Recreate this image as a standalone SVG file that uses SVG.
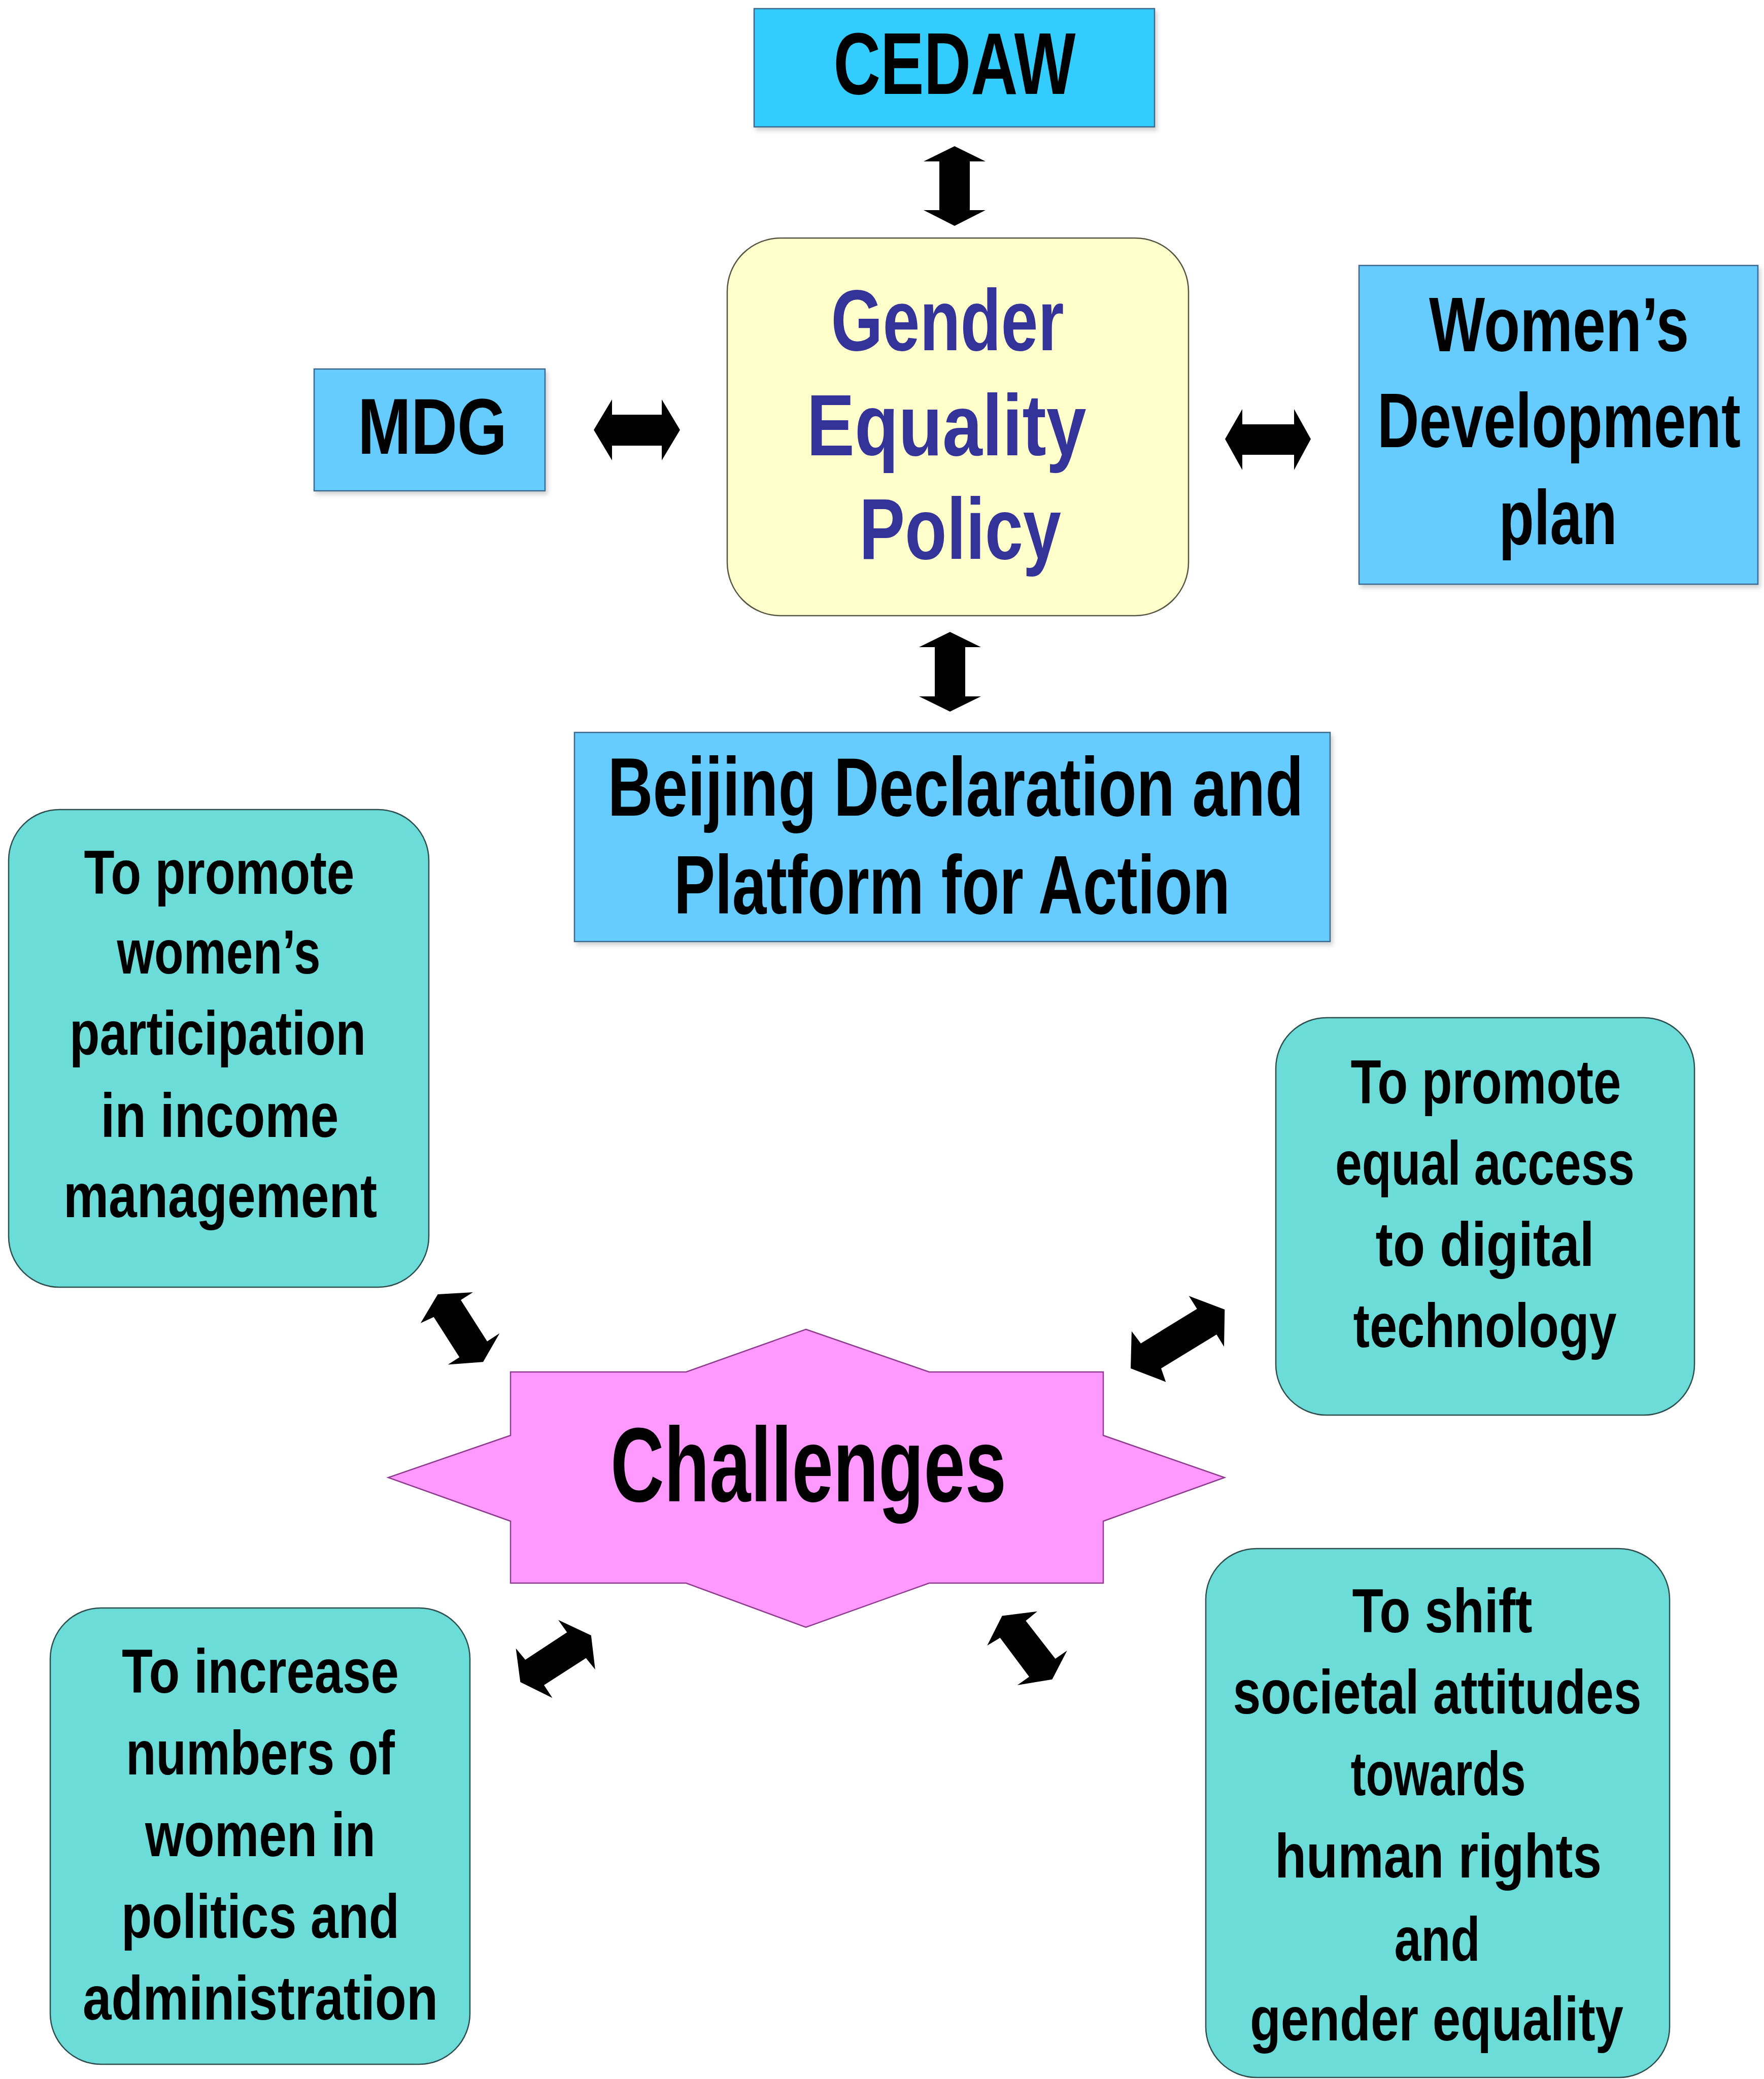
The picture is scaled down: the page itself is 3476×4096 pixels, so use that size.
<svg xmlns="http://www.w3.org/2000/svg" width="3476" height="4096" viewBox="0 0 3476 4096">
<defs>
<filter id="sh" x="-5%" y="-5%" width="110%" height="115%">
<feDropShadow dx="4" dy="6" stdDeviation="4" flood-color="#000" flood-opacity="0.18"/>
</filter>
</defs>
<style>
text{font-family:"Liberation Sans",Arial,sans-serif;font-weight:bold;text-anchor:middle;fill:#000}
.blue{fill:#66CCFF;stroke:#3D6A8C;stroke-width:2.5}
.cyan{fill:#33CCFF;stroke:#3D6A8C;stroke-width:2.5}
.teal{fill:#6BDCD8;stroke:#2F4F4F;stroke-width:2.5}
.gep{fill:#FFFFCC;stroke:#555544;stroke-width:2.5}
.star{fill:#FF99FF;stroke:#8E3C8E;stroke-width:2.5}
.arr{fill:#000}
.t{font-size:122px}
.g{fill:#333399;font-size:171px}
</style>
<rect width="3476" height="4096" fill="#fff"/>

<g id="connectors">
<polygon class="arr" points="1881,288 1942,318 1911,318 1911,414 1942,414 1881,445 1820,414 1851,414 1851,318 1820,318"/>
<polygon class="arr" points="1872,1245 1933,1275 1902,1275 1902,1372 1933,1372 1872,1402 1811,1372 1842,1372 1842,1275 1811,1275"/>
<polygon class="arr" points="1170,847 1206,787 1206,817 1304,817 1304,787 1340,847 1304,907 1304,878 1206,878 1206,907"/>
<polygon class="arr" points="2414,865 2448,806 2448,836 2550,836 2550,806 2583,865 2550,926 2550,896 2448,896 2448,926"/>
<polygon class="arr" points="862.7,2549.9 932,2545.9 908,2561.3 960,2642.7 984.5,2626.7 952,2683.2 882.7,2688.5 905.3,2674.1 854.7,2594.7 828.8,2606.7"/>
<polygon class="arr" points="2342.7,2553.3 2413.3,2580 2412,2653.3 2397.3,2629.3 2288,2696 2297.3,2722.7 2228,2696 2229.9,2622.7 2248,2646.7 2358.7,2578.7"/>
<polygon class="arr" points="1100,3191.5 1164.8,3221.9 1172.8,3289.3 1154.7,3266.7 1072,3320 1088.5,3345.3 1025.3,3314.1 1016.5,3247.5 1035.2,3269.9 1117.3,3216"/>
<polygon class="arr" points="1974.7,3183.5 2044,3174.7 2021.3,3193.3 2079.5,3268 2102.7,3252 2073.3,3308.8 2004.8,3320 2028,3303.5 1970.7,3226.7 1945.3,3242.1"/>
</g>

<g id="cedaw">
<rect class="cyan" x="1486" y="17" width="789" height="233" filter="url(#sh)"/>
<text x="1881" y="185" font-size="172" textLength="477" lengthAdjust="spacingAndGlyphs">CEDAW</text>
</g>

<g id="gender-equality-policy">
<rect class="gep" x="1433" y="469" width="909" height="744" rx="105" ry="105"/>
<text class="g" x="1867" y="690" textLength="459" lengthAdjust="spacingAndGlyphs">Gender</text>
<text class="g" x="1865" y="897" textLength="551" lengthAdjust="spacingAndGlyphs">Equality</text>
<text class="g" x="1892" y="1101" textLength="398" lengthAdjust="spacingAndGlyphs">Policy</text>
</g>

<g id="mdg">
<rect class="blue" x="619" y="727" width="455" height="240" filter="url(#sh)"/>
<text x="852" y="894" font-size="156" textLength="294" lengthAdjust="spacingAndGlyphs">MDG</text>
</g>

<g id="womens-development-plan">
<rect class="blue" x="2678" y="523" width="786" height="628" filter="url(#sh)"/>
<text x="3072" y="692" font-size="152" textLength="512" lengthAdjust="spacingAndGlyphs">Women’s</text>
<text transform="translate(3072 881) scale(0.75 1)" x="0" y="0" font-size="152">Development</text>
<text x="3070" y="1072" font-size="152" textLength="233" lengthAdjust="spacingAndGlyphs">plan</text>
</g>

<g id="beijing">
<rect class="blue" x="1132" y="1443" width="1489" height="412" filter="url(#sh)"/>
<text x="1883" y="1607" font-size="163" textLength="1371" lengthAdjust="spacingAndGlyphs">Beijing Declaration and</text>
<text x="1876" y="1800" font-size="163" textLength="1096" lengthAdjust="spacingAndGlyphs">Platform for Action</text>
</g>

<g id="income">
<rect class="teal" x="17" y="1595" width="828" height="941" rx="100" ry="100"/>
<text class="t" x="432" y="1761" textLength="533" lengthAdjust="spacingAndGlyphs">To promote</text>
<text class="t" x="431" y="1918" textLength="401" lengthAdjust="spacingAndGlyphs">women’s</text>
<text class="t" x="429" y="2078" textLength="584" lengthAdjust="spacingAndGlyphs">participation</text>
<text class="t" x="433" y="2240" textLength="469" lengthAdjust="spacingAndGlyphs">in income</text>
<text class="t" x="434" y="2398" textLength="618" lengthAdjust="spacingAndGlyphs">management</text>
</g>

<g id="digital">
<rect class="teal" x="2514" y="2005" width="825" height="783" rx="100" ry="100"/>
<text class="t" x="2928" y="2174" textLength="533" lengthAdjust="spacingAndGlyphs">To promote</text>
<text class="t" x="2926" y="2334" textLength="590" lengthAdjust="spacingAndGlyphs">equal access</text>
<text class="t" x="2926" y="2494" textLength="431" lengthAdjust="spacingAndGlyphs">to digital</text>
<text class="t" x="2926" y="2654" textLength="519" lengthAdjust="spacingAndGlyphs">technology</text>
</g>

<g id="challenges">
<polygon class="star" points="1588,2619 1831,2703 2174,2703 2174,2828 2413,2911 2174,2997 2174,3119 1831,3119 1588,3206 1352,3119 1006,3119 1006,2997 765,2911 1006,2828 1006,2703 1352,2703"/>
<text x="1593" y="2958" font-size="208" textLength="780" lengthAdjust="spacingAndGlyphs">Challenges</text>
</g>

<g id="politics">
<rect class="teal" x="99" y="3168" width="827" height="899" rx="100" ry="100"/>
<text class="t" x="513" y="3335" textLength="546" lengthAdjust="spacingAndGlyphs">To increase</text>
<text class="t" x="513" y="3496" textLength="530" lengthAdjust="spacingAndGlyphs">numbers of</text>
<text class="t" x="513" y="3657" textLength="454" lengthAdjust="spacingAndGlyphs">women in</text>
<text class="t" x="513" y="3818" textLength="548" lengthAdjust="spacingAndGlyphs">politics and</text>
<text class="t" x="513" y="3979" textLength="700" lengthAdjust="spacingAndGlyphs">administration</text>
</g>

<g id="attitudes">
<rect class="teal" x="2376" y="3051" width="914" height="1042" rx="100" ry="100"/>
<text class="t" x="2842" y="3216" textLength="355" lengthAdjust="spacingAndGlyphs">To shift</text>
<text class="t" x="2832" y="3376" textLength="805" lengthAdjust="spacingAndGlyphs">societal attitudes</text>
<text class="t" x="2834" y="3537" textLength="345" lengthAdjust="spacingAndGlyphs">towards</text>
<text class="t" x="2834" y="3699" textLength="644" lengthAdjust="spacingAndGlyphs">human rights</text>
<text class="t" x="2832" y="3863" textLength="169" lengthAdjust="spacingAndGlyphs">and</text>
<text class="t" x="2831" y="4020" textLength="736" lengthAdjust="spacingAndGlyphs">gender equality</text>
</g>
</svg>
